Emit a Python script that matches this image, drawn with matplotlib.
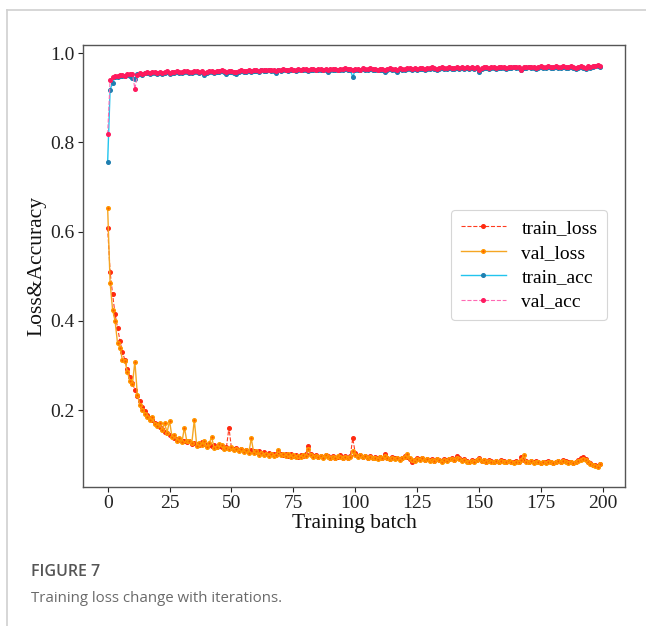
import matplotlib
matplotlib.use("Agg")
import matplotlib.pyplot as plt
from matplotlib.lines import Line2D

batches = list(range(200))

train_acc = [
    0.755, 0.918, 0.933, 0.946, 0.947, 0.948, 0.949, 0.948, 0.950, 0.949,
    0.944, 0.942, 0.952, 0.953, 0.951, 0.955, 0.956, 0.954, 0.956, 0.955,
    0.954, 0.956, 0.953, 0.955, 0.957, 0.954, 0.956, 0.955, 0.957, 0.956,
    0.955, 0.957, 0.958, 0.956, 0.955, 0.957, 0.958, 0.956, 0.957, 0.951,
    0.956, 0.958, 0.957, 0.956, 0.958, 0.957, 0.959, 0.958, 0.954, 0.957,
    0.958, 0.956, 0.953, 0.958, 0.959, 0.957, 0.958, 0.960, 0.958, 0.959,
    0.960, 0.958, 0.961, 0.959, 0.960, 0.961, 0.959, 0.960, 0.955, 0.961,
    0.960, 0.962, 0.961, 0.960, 0.962, 0.961, 0.960, 0.962, 0.961, 0.963,
    0.962, 0.960, 0.962, 0.963, 0.961, 0.962, 0.963, 0.961, 0.962, 0.958,
    0.962, 0.963, 0.962, 0.961, 0.963, 0.962, 0.964, 0.963, 0.962, 0.946,
    0.962, 0.963, 0.961, 0.964, 0.962, 0.963, 0.964, 0.962, 0.963, 0.961,
    0.963, 0.962, 0.957, 0.963, 0.964, 0.962, 0.963, 0.958, 0.964, 0.963,
    0.962, 0.964, 0.965, 0.963, 0.964, 0.962, 0.965, 0.964, 0.963, 0.965,
    0.964, 0.966, 0.965, 0.963, 0.965, 0.966, 0.964, 0.965, 0.966, 0.965,
    0.964, 0.966, 0.965, 0.967, 0.965, 0.966, 0.964, 0.966, 0.965, 0.967,
    0.957, 0.965, 0.966, 0.967, 0.965, 0.966, 0.967, 0.965, 0.966, 0.967,
    0.966, 0.965, 0.967, 0.966, 0.968, 0.966, 0.967, 0.963, 0.966, 0.967,
    0.968, 0.966, 0.967, 0.965, 0.967, 0.968, 0.966, 0.967, 0.968, 0.966,
    0.967, 0.968, 0.966, 0.967, 0.968, 0.967, 0.966, 0.968, 0.967, 0.964,
    0.967, 0.968, 0.966, 0.964, 0.968, 0.967, 0.969, 0.970, 0.971, 0.969,
]

val_acc = [
    0.818, 0.939, 0.946, 0.948, 0.949, 0.950, 0.951, 0.949, 0.952, 0.953,
    0.954, 0.920, 0.950, 0.955, 0.954, 0.956, 0.957, 0.956, 0.958, 0.957,
    0.956, 0.958, 0.955, 0.957, 0.959, 0.956, 0.958, 0.957, 0.959, 0.958,
    0.957, 0.959, 0.960, 0.958, 0.957, 0.959, 0.960, 0.958, 0.959, 0.955,
    0.958, 0.960, 0.959, 0.958, 0.960, 0.959, 0.961, 0.960, 0.958, 0.959,
    0.960, 0.958, 0.957, 0.960, 0.961, 0.959, 0.960, 0.962, 0.960, 0.961,
    0.962, 0.960, 0.963, 0.961, 0.962, 0.963, 0.961, 0.962, 0.959, 0.963,
    0.962, 0.964, 0.963, 0.962, 0.964, 0.963, 0.962, 0.964, 0.963, 0.965,
    0.964, 0.962, 0.964, 0.965, 0.963, 0.964, 0.965, 0.963, 0.964, 0.961,
    0.964, 0.965, 0.964, 0.963, 0.965, 0.964, 0.966, 0.965, 0.964, 0.962,
    0.964, 0.965, 0.963, 0.966, 0.964, 0.965, 0.966, 0.964, 0.965, 0.963,
    0.965, 0.964, 0.962, 0.965, 0.966, 0.964, 0.965, 0.962, 0.966, 0.965,
    0.964, 0.966, 0.967, 0.965, 0.966, 0.964, 0.967, 0.966, 0.965, 0.967,
    0.966, 0.968, 0.967, 0.965, 0.967, 0.968, 0.966, 0.967, 0.968, 0.967,
    0.966, 0.968, 0.967, 0.969, 0.967, 0.968, 0.966, 0.968, 0.967, 0.969,
    0.963, 0.967, 0.968, 0.969, 0.967, 0.968, 0.969, 0.967, 0.968, 0.969,
    0.968, 0.967, 0.969, 0.968, 0.969, 0.968, 0.969, 0.961, 0.968, 0.969,
    0.969, 0.968, 0.969, 0.967, 0.969, 0.970, 0.968, 0.969, 0.970, 0.968,
    0.969, 0.970, 0.968, 0.969, 0.970, 0.969, 0.968, 0.970, 0.969, 0.967,
    0.969, 0.970, 0.968, 0.967, 0.970, 0.969, 0.971, 0.972, 0.973, 0.971,
]

train_loss = [
    0.609, 0.510, 0.460, 0.415, 0.385, 0.355, 0.330, 0.312, 0.292, 0.275,
    0.262, 0.245, 0.232, 0.220, 0.208, 0.198, 0.190, 0.182, 0.178, 0.172,
    0.168, 0.163, 0.158, 0.152, 0.148, 0.145, 0.142, 0.138, 0.135, 0.133,
    0.130, 0.132, 0.128, 0.130, 0.125, 0.127, 0.124, 0.122, 0.128, 0.125,
    0.121, 0.123, 0.119, 0.121, 0.118, 0.120, 0.117, 0.115, 0.118, 0.161,
    0.115, 0.112, 0.116, 0.110, 0.113, 0.109, 0.111, 0.107, 0.110, 0.108,
    0.106, 0.109, 0.104, 0.107, 0.102, 0.105, 0.101, 0.103, 0.100, 0.106,
    0.102, 0.099, 0.103, 0.098, 0.101, 0.097, 0.100, 0.096, 0.099, 0.098,
    0.101, 0.120, 0.102, 0.097, 0.099, 0.096, 0.098, 0.095, 0.100, 0.097,
    0.094, 0.097, 0.093, 0.096, 0.099, 0.094, 0.097, 0.093, 0.098, 0.137,
    0.104, 0.097, 0.100, 0.096, 0.098, 0.094, 0.097, 0.093, 0.095, 0.092,
    0.096, 0.093, 0.102, 0.094, 0.091, 0.095, 0.092, 0.094, 0.090, 0.093,
    0.098, 0.095, 0.091, 0.085, 0.089, 0.092, 0.090, 0.093, 0.089, 0.091,
    0.088, 0.090, 0.087, 0.091, 0.089, 0.086, 0.090, 0.088, 0.091, 0.093,
    0.089, 0.097, 0.092, 0.088, 0.090, 0.086, 0.084, 0.088, 0.086, 0.089,
    0.094, 0.087, 0.089, 0.085, 0.088, 0.086, 0.084, 0.087, 0.085, 0.088,
    0.086, 0.084, 0.087, 0.085, 0.083, 0.086, 0.084, 0.095, 0.088, 0.086,
    0.084, 0.087, 0.083, 0.086, 0.084, 0.082, 0.085, 0.083, 0.086, 0.084,
    0.082, 0.085, 0.087, 0.084, 0.088, 0.086, 0.083, 0.085, 0.082, 0.084,
    0.088, 0.092, 0.095, 0.090, 0.085, 0.082, 0.078, 0.077, 0.074, 0.080,
]

val_loss = [
    0.654, 0.485, 0.425, 0.400, 0.350, 0.340, 0.312, 0.310, 0.285, 0.265,
    0.258, 0.309, 0.235, 0.212, 0.200, 0.192, 0.184, 0.178, 0.184, 0.170,
    0.165, 0.172, 0.155, 0.171, 0.150, 0.176, 0.140, 0.145, 0.132, 0.138,
    0.128, 0.161, 0.130, 0.132, 0.127, 0.178, 0.120, 0.126, 0.123, 0.131,
    0.117, 0.126, 0.140, 0.115, 0.118, 0.124, 0.121, 0.114, 0.116, 0.112,
    0.118, 0.110, 0.114, 0.109, 0.112, 0.106, 0.110, 0.104, 0.137, 0.105,
    0.109, 0.100, 0.105, 0.099, 0.103, 0.098, 0.102, 0.097, 0.099, 0.110,
    0.100, 0.103, 0.097, 0.101, 0.096, 0.099, 0.095, 0.098, 0.096, 0.100,
    0.098, 0.112, 0.100, 0.096, 0.098, 0.095, 0.097, 0.094, 0.099, 0.096,
    0.093, 0.096, 0.092, 0.098, 0.096, 0.093, 0.096, 0.092, 0.095, 0.109,
    0.100, 0.096, 0.099, 0.095, 0.097, 0.093, 0.096, 0.092, 0.094, 0.091,
    0.095, 0.092, 0.097, 0.093, 0.090, 0.094, 0.091, 0.093, 0.089, 0.092,
    0.095, 0.101, 0.093, 0.088, 0.087, 0.091, 0.089, 0.092, 0.088, 0.090,
    0.087, 0.089, 0.086, 0.090, 0.088, 0.085, 0.089, 0.087, 0.090, 0.091,
    0.088, 0.093, 0.090, 0.087, 0.089, 0.085, 0.083, 0.087, 0.085, 0.088,
    0.090, 0.086, 0.088, 0.084, 0.087, 0.085, 0.083, 0.086, 0.084, 0.087,
    0.085, 0.083, 0.086, 0.084, 0.082, 0.085, 0.083, 0.089, 0.100, 0.085,
    0.083, 0.086, 0.082, 0.085, 0.083, 0.081, 0.084, 0.082, 0.085, 0.083,
    0.081, 0.084, 0.086, 0.083, 0.086, 0.085, 0.082, 0.084, 0.081, 0.083,
    0.086, 0.089, 0.091, 0.088, 0.083, 0.080, 0.077, 0.076, 0.073, 0.079,
]

x_ticks = [0, 25, 50, 75, 100, 125, 150, 175, 200]
y_ticks = [0.2, 0.4, 0.6, 0.8, 1.0]

plt.rcParams['font.family'] = ['Liberation Serif', 'DejaVu Serif']

fig = plt.figure(figsize=(6.46, 6.26), dpi=100)
ax = fig.add_axes([83/646, 1-487/626, (625-83)/646, (487-45)/626])

ms = 2.6
ax.plot(batches, train_loss, color='#ff3b1f', linestyle='--', linewidth=0.8,
        marker='o', markersize=ms, markerfacecolor='#ff2a10', markeredgecolor='#ff2a10',
        label='train_loss')
ax.plot(batches, val_loss, color='#f5a623', linestyle='-', linewidth=1.0,
        marker='o', markersize=ms, markerfacecolor='#ff5a00', markeredgecolor='#ff9900',
        label='val_loss')
ax.plot(batches, train_acc, color='#22c4ee', linestyle='-', linewidth=1.0,
        marker='o', markersize=ms, markerfacecolor='#1f7fb0', markeredgecolor='#1f7fb0',
        label='train_acc')
ax.plot(batches, val_acc, color='#ff69b4', linestyle='--', linewidth=0.8,
        marker='o', markersize=ms, markerfacecolor='#ff1a5e', markeredgecolor='#ff1a5e',
        label='val_acc')

ax.set_xticks(x_ticks)
ax.set_yticks(y_ticks)
ax.set_yticklabels([f"{v:.1f}" for v in y_ticks])
ax.tick_params(labelsize=14, colors='#222222', length=3.5, width=0.8, pad=2.5)
for s in ax.spines.values():
    s.set_color('#555555')
    s.set_linewidth(1.0)

ax.set_xlabel('Training batch', fontsize=15.5, color='#111111', labelpad=1)
ax.set_ylabel('Loss&Accuracy', fontsize=15.5, color='#111111', labelpad=3)

leg = ax.legend(loc='center right', bbox_to_anchor=(0.985, 0.502), fontsize=14,
                frameon=True, fancybox=True, edgecolor='#cccccc', handlelength=2.3,
                borderpad=0.5, labelspacing=0.35, handletextpad=0.8)
leg.get_frame().set_linewidth(0.8)

# outer frame lines of the figure panel
fig.add_artist(Line2D([7/646, 1.0], [1-10/626, 1-10/626], color='#d0d0d0', linewidth=1.2))
fig.add_artist(Line2D([7/646, 7/646], [0.0, 1-10/626], color='#d0d0d0', linewidth=1.2))

fig.text(31/646, 1-572/626, 'FIGURE 7', family=['Open Sans', 'DejaVu Sans'],
         fontsize=11.5, color='#555555', va='center', ha='left', fontweight='semibold')
fig.text(31/646, 1-599/626, 'Training loss change with iterations.',
         family=['Open Sans', 'DejaVu Sans'], fontsize=10.8, color='#6a6a6a',
         va='center', ha='left')

fig.savefig('out.png', dpi=100)
